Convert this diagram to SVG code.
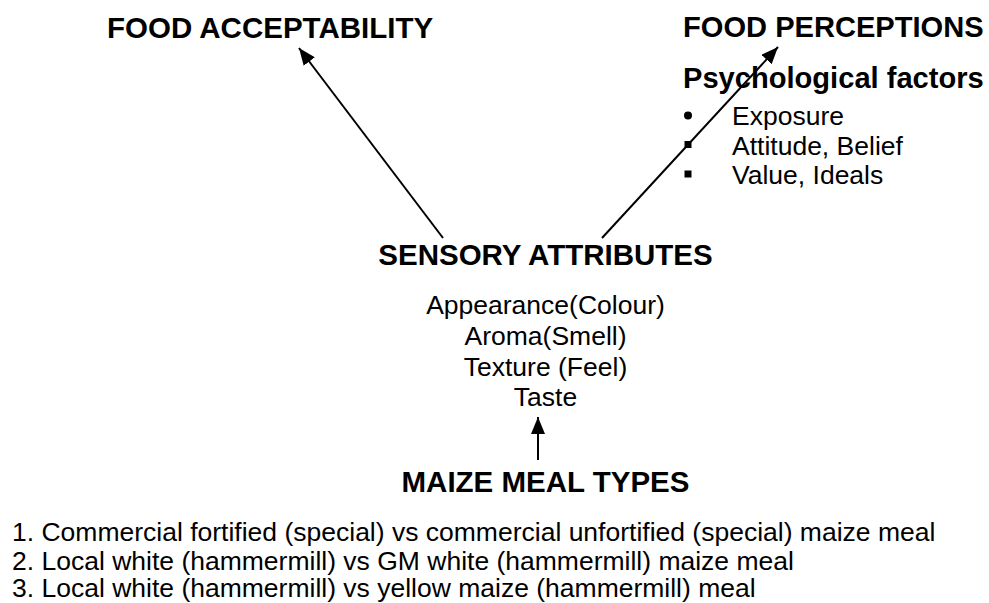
<svg xmlns="http://www.w3.org/2000/svg" width="989" height="603" viewBox="0 0 989 603">
<style>
text{font-family:"Liberation Sans",Arial,sans-serif;fill:#000}
.h{font-size:29.5px;font-weight:bold}
.b{font-size:26.5px}
.c{text-anchor:middle}
.ln{stroke:#000;stroke-width:2;fill:none}
</style>
<defs>
<marker id="ah" markerUnits="userSpaceOnUse" markerWidth="18" markerHeight="14" refX="17" refY="7" orient="auto">
<path d="M0,0 L17,7 L0,14 z" fill="#000"/>
</marker>
</defs>
<rect width="989" height="603" fill="#fff"/>
<g id="connectors">
<line class="ln" x1="443" y1="238" x2="299" y2="48" marker-end="url(#ah)"/>
<line class="ln" x1="602" y1="238" x2="778" y2="47" marker-end="url(#ah)"/>
<line class="ln" x1="538" y1="460" x2="538" y2="417" marker-end="url(#ah)"/>
</g>
<g id="food-acceptability">
<text class="h" x="107" y="38">FOOD ACCEPTABILITY</text>
</g>
<g id="food-perceptions">
<text class="h" x="683" y="37" style="font-size:29.1px">FOOD PERCEPTIONS</text>
<text class="h" x="683" y="88" style="font-size:29.1px">Psychological factors</text>
<circle cx="688" cy="115.5" r="4"/>
<rect x="684.5" y="141" width="7" height="7"/>
<rect x="684.5" y="170.5" width="7" height="7"/>
<text class="b" x="732" y="124.5">Exposure</text>
<text class="b" x="732" y="154.5">Attitude, Belief</text>
<text class="b" x="732" y="184">Value, Ideals</text>
</g>
<g id="sensory-attributes">
<text class="h c" x="545.5" y="265">SENSORY ATTRIBUTES</text>
<text class="b c" x="545.5" y="314">Appearance(Colour)</text>
<text class="b c" x="545.5" y="345">Aroma(Smell)</text>
<text class="b c" x="545.5" y="376">Texture (Feel)</text>
<text class="b c" x="545.5" y="406">Taste</text>
</g>
<g id="maize-meal-types">
<text class="h c" x="545.5" y="492">MAIZE MEAL TYPES</text>
<text class="b" x="12" y="541">1. Commercial fortified (special) vs commercial unfortified (special) maize meal</text>
<text class="b" x="12" y="569.5">2. Local white (hammermill) vs GM white (hammermill) maize meal</text>
<text class="b" x="12" y="597">3. Local white (hammermill) vs yellow maize (hammermill) meal</text>
</g>
</svg>
